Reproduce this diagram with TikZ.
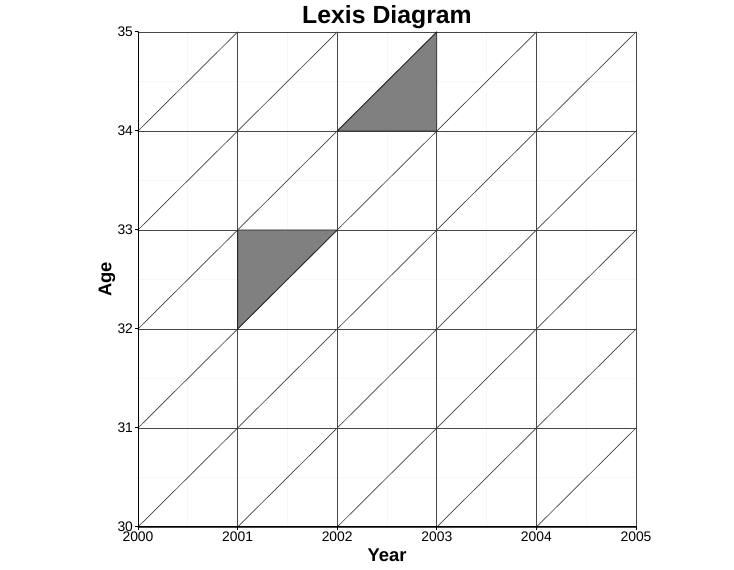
\documentclass[tikz,border=0pt]{standalone}
\usepackage{fontspec}
\setmainfont{Liberation Sans}
\begin{document}
\begin{tikzpicture}[x=74.7pt, y=74.25pt, line cap=round,
  minorgrid/.style={draw=black!3, line width=0.5pt},
  majorgrid/.style={draw=black!72, line width=0.7pt},
  diagline/.style={draw=black!75, line width=0.5pt},
  cohort/.style={fill=black!50, draw=black!85, line width=0.6pt, line join=round},
  ticklab/.style={font=\fontsize{10.4}{12}\selectfont, inner sep=0pt},
  axistitle/.style={font=\bfseries\fontsize{13.8}{16}\selectfont, inner sep=0pt}]
  \useasboundingbox (-103.5pt,-32.25pt) rectangle (447pt,395.25pt);
  % minor grid (half years / half ages)
  \foreach \i in {0.5,1.5,...,4.5} {
    \draw[minorgrid] (\i,0) -- (\i,5);
    \draw[minorgrid] (0,\i) -- (5,\i);
  }
  % major grid
  \foreach \i in {0,...,5} {
    \draw[majorgrid] (\i,0) -- (\i,5);
    \draw[majorgrid] (0,\i) -- (5,\i);
  }
  % life lines
  \begin{scope}
    \clip (0,0) rectangle (5,5);
    \foreach \k in {-4,...,4}
      \draw[diagline] (\k,0) -- (\k+5,5);
  \end{scope}
  % shaded triangles
  \filldraw[cohort] (2,4) -- (3,5) -- (3,4) -- cycle;
  \filldraw[cohort] (1,2) -- (1,3) -- (2,3) -- cycle;
  % axes
  \draw[black, line width=0.75pt] (0,5) -- (0,0) -- (5,0);
  \foreach \i in {0,...,5} {
    \draw[black, line width=0.75pt] (\i,0) -- ++(0,-2pt);
    \draw[black, line width=0.75pt] (0,\i) -- ++(-2pt,0);
  }
  % tick labels
  \foreach \i [evaluate=\i as \yr using int(2000+\i), evaluate=\i as \ag using int(30+\i)] in {0,...,5} {
    \node[ticklab, anchor=north] (xlab\i) at ([yshift=-3.4pt]\i,0) {\yr};
    \node[ticklab, anchor=east] (ylab\i) at ([xshift=-3.6pt]0,\i) {\ag};
  }
  % titles
  \node[axistitle] (xtitle) at (2.5,-21pt) {Year};
  \node[axistitle, rotate=90] (ytitle) at (-23.25pt,2.5) {Age};
  \node[font=\bfseries\fontsize{18.6}{22}\selectfont, inner sep=0pt] (title) at (2.5,382.5pt) {Lexis Diagram};
\end{tikzpicture}
\end{document}
